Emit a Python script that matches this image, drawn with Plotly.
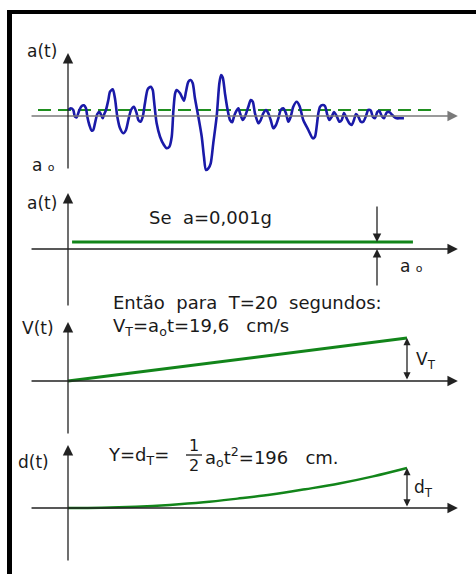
import plotly.graph_objects as go

# ---------------- data ----------------
# recorded ground acceleration a(t): time (s) and acceleration (cm/s^2), read from the figure
acc_t = [0.02, 0.16, 0.31, 0.41, 0.51, 0.67, 0.81, 0.94, 1.06, 1.14,
         1.26, 1.40, 1.49, 1.59, 1.73, 1.85, 1.93, 2.05, 2.12, 2.24,
         2.38, 2.48, 2.64, 2.77, 2.91, 3.07, 3.26, 3.42, 3.56, 3.72,
         3.89, 4.05, 4.15, 4.29, 4.41, 4.54, 4.70, 4.88, 5.00, 5.07,
         5.23, 5.43, 5.66, 5.82, 5.98, 6.12, 6.22, 6.32, 6.41, 6.61,
         6.84, 6.96, 7.10, 7.24, 7.36, 7.49, 7.69, 7.89, 8.02, 8.14,
         8.28, 8.42, 8.57, 8.77, 8.93, 9.03, 9.13, 9.26, 9.40, 9.56,
         9.69, 9.79, 9.91, 10.05, 10.15, 10.31, 10.44, 10.64, 10.78, 10.90,
         11.03, 11.23, 11.37, 11.52, 11.68, 11.82, 11.96, 12.11, 12.27, 12.41,
         12.55, 12.70, 12.86, 13.00, 13.14, 13.29, 13.49, 13.66, 13.88, 14.18,
         14.44, 14.57, 14.67, 14.77, 14.87, 15.03, 15.16, 15.30, 15.42, 15.56,
         15.69, 15.85, 16.01, 16.15, 16.28, 16.44, 16.60, 16.74, 16.87, 16.99,
         17.13, 17.27, 17.42, 17.58, 17.71, 17.86, 17.98, 18.11, 18.25, 18.37,
         18.51, 18.64, 18.80, 18.96, 19.10, 19.23, 19.39, 19.59, 19.82]
acc_a = [1.0, 1.28, 1.0, -0.12, -0.22, 1.0, 1.67, 1.78, 1.28, -0.12,
         -1.5, -2.45, -2.33, -1.22, 0.33, 0.72, 0.33, -0.38, 0.17, 1.0,
         2.67, 4.05, 4.45, 2.95, -0.12, -2.05, -2.88, -2.33, -0.67, 1.0,
         1.55, 0.45, -0.67, -0.95, -0.12, 2.12, 4.45, 4.88, 4.33, 2.67,
         -1.22, -3.45, -4.83, -5.38, -5.12, -3.45, 1.0, 3.78, 4.33, 3.78,
         2.55, 4.05, 5.72, 6.0, 5.45, 2.95, -0.12, -3.45, -6.78, -9.0,
         -8.72, -7.88, -4.55, -0.12, 5.45, 6.83, 6.42, 3.78, 1.28, -0.67,
         -1.05, -0.12, 0.72, 1.28, 0.45, -0.67, -0.12, 1.55, 2.67, 2.38,
         0.45, -1.22, -0.67, 0.45, 1.0, 0.45, -0.67, -2.05, -1.5, -0.38,
         1.0, 1.28, 0.45, -0.95, -0.12, 1.55, 2.38, 1.67, -0.67, -2.33,
         -3.72, -3.45, -1.78, 0.45, 1.55, 1.83, 1.67, 0.17, -0.67, -0.12,
         0.67, 0.0, -0.95, -0.67, 0.5, -0.38, -1.22, -1.5, -0.67, 0.33,
         -0.12, -0.95, -0.95, 0.0, 1.0, 0.92, -0.12, -0.38, 0.67, 0.83,
         0.0, -0.38, 0.58, 0.67, 0.25, -0.12, -0.38, -0.38, -0.38]

a0 = 0.98            # cm/s^2  (0.001 g)
T_end = 20.0         # s
VT = 19.6            # cm/s
dT = 196.0           # cm

dash_t = [-1.77, 21.6]          # dashed a0 level in the record panel
dash_a = [a0, a0]
const_t = [0.24, 20.35]         # constant acceleration
const_a = [a0, a0]
vel_t = [0.0, 20.0]             # velocity
vel_v = [0.0, 19.6]
disp_t = [0, 2, 4, 6, 8, 10, 12, 14, 16, 18, 20]   # displacement
disp_d = [0, 1, 6, 15, 28, 46, 66, 92, 120, 155, 196]

axis_t = [-2.24, 23.0]          # extent of horizontal axes

# ---------------- layout helpers ----------------
W, H = 476, 574
PX_PER_S = 16.95
X0_PX = 68
x_range = [-X0_PX / PX_PER_S, (W - X0_PX) / PX_PER_S]


def yr(zero_px, px_per_unit):
    return [(zero_px - H) / px_per_unit, zero_px / px_per_unit]


panels = {
    "y": (116, 6.0),
    "y2": (249, 7.2),
    "y3": (381, 43 / 19.6),
    "y4": (508, 40 / 196.0),
}

FONT = "DejaVu Sans"
TXT = "#1a1a1a"
GREEN = "#12851a"
BLUE = "#1a1aa8"

fig = go.Figure()
fig.add_trace(go.Scatter(x=dash_t, y=dash_a, mode="lines", yaxis="y",
                         line=dict(color="#1f8f1f", width=2, dash="13px,7px")))
fig.add_trace(go.Scatter(x=acc_t, y=acc_a, mode="lines", yaxis="y",
                         line=dict(color=BLUE, width=2.6, shape="spline", smoothing=0.7)))
fig.add_trace(go.Scatter(x=const_t, y=const_a, mode="lines", yaxis="y2",
                         line=dict(color=GREEN, width=3)))
fig.add_trace(go.Scatter(x=vel_t, y=vel_v, mode="lines", yaxis="y3",
                         line=dict(color=GREEN, width=3)))
fig.add_trace(go.Scatter(x=disp_t, y=disp_d, mode="lines", yaxis="y4",
                         line=dict(color=GREEN, width=2.4, shape="spline")))

ann = []


def arrow(yref, x, y, ax, ay, color="#222", head=2, size=1.0, width=1.3, side="end"):
    ann.append(dict(x=x, y=y, ax=ax, ay=ay, xref="x", yref=yref, axref="x", ayref=yref,
                    text="", showarrow=True, arrowhead=head, startarrowhead=head,
                    arrowsize=size, startarrowsize=size, arrowwidth=width,
                    arrowcolor=color, arrowside=side, standoff=0, startstandoff=0))


# horizontal axes (with arrow heads)
arrow("y", axis_t[1], 0, axis_t[0], 0, color="#7a7a7a", size=1.6)
arrow("y2", axis_t[1], 0, axis_t[0], 0, size=1.6)
arrow("y3", axis_t[1], 0, axis_t[0], 0, size=1.6)
arrow("y4", axis_t[1], 0, axis_t[0], 0, size=1.6)

# vertical axes
arrow("y", 0, (116 - 53) / 6.0, 0, (116 - 170) / 6.0, size=1.6)
arrow("y2", 0, (249 - 193) / 7.2, 0, (249 - 307) / 7.2, size=1.6)
k3 = 43 / 19.6
arrow("y3", 0, (381 - 322) / k3, 0, (381 - 435) / k3, size=1.6)
k4 = 40 / 196.0
arrow("y4", 0, (508 - 445) / k4, 0, (508 - 562) / k4, size=1.6)

# dimension arrows
t_dim = 18.23
arrow("y2", t_dim, a0, t_dim, (249 - 205) / 7.2, size=1.3)
arrow("y2", t_dim, 0, t_dim, (249 - 287) / 7.2, size=1.3)
arrow("y3", T_end, VT, T_end, 0, size=1.1, side="end+start")
arrow("y4", T_end, dT, T_end, 0, size=1.1, side="end+start")


def label(x_px, y_px, text, size=18, anchor="left"):
    ann.append(dict(x=x_px / W, y=1 - y_px / H, xref="paper", yref="paper",
                    text=text, showarrow=False, xanchor=anchor, yanchor="middle",
                    font=dict(family=FONT, size=size, color=TXT)))


SUBO = "<span style='font-size:11px'>o</span>"
label(25, 51, "a(t)", size=17)
label(30, 165, "a " + SUBO, size=17)
label(25, 203, "a(t)", size=17)
label(147, 217, "Se  a=0,001g")
label(398, 266, "a " + SUBO, size=17)
label(111, 302, "Então  para  T=20  segundos:")
label(111, 327, "V<sub>T</sub>=a<sub>o</sub>t=19,6   cm/s")
label(20, 328, "V(t)", size=17)
label(414, 360, "V<sub>T</sub>", size=17)
label(16, 462, "d(t)", size=17)
label(106, 456, "Y=d<sub>T</sub>=")
label(194, 446, "1", size=16, anchor="center")
label(194, 465, "2", size=16, anchor="center")
label(203, 457, "a<sub>o</sub>t<sup>2</sup>=196   cm.")
label(412, 488, "d<sub>T</sub>", size=17)

shapes = [
    # frame (top and left border)
    dict(type="rect", xref="paper", yref="paper", x0=7 / W, x1=1.0,
         y0=1 - 14 / H, y1=1 - 10 / H, fillcolor="black", line_width=0),
    dict(type="rect", xref="paper", yref="paper", x0=7 / W, x1=12 / W,
         y0=0, y1=1 - 10 / H, fillcolor="black", line_width=0),
    # fraction bar
    dict(type="line", xref="paper", yref="paper", x0=186 / W, x1=202 / W,
         y0=1 - 455 / H, y1=1 - 455 / H, line=dict(color=TXT, width=1.3)),
]

layout = dict(
    width=W, height=H, margin=dict(l=0, r=0, t=0, b=0),
    paper_bgcolor="white", plot_bgcolor="white", showlegend=False,
    xaxis=dict(range=x_range, visible=False, domain=[0, 1]),
    annotations=ann, shapes=shapes,
)
for name, (z, k) in panels.items():
    key = "yaxis" if name == "y" else "yaxis" + name[1:]
    d = dict(range=yr(z, k), visible=False, domain=[0, 1])
    if name != "y":
        d["overlaying"] = "y"
    layout[key] = d

fig.update_layout(**layout)
fig.write_html("out.html")
